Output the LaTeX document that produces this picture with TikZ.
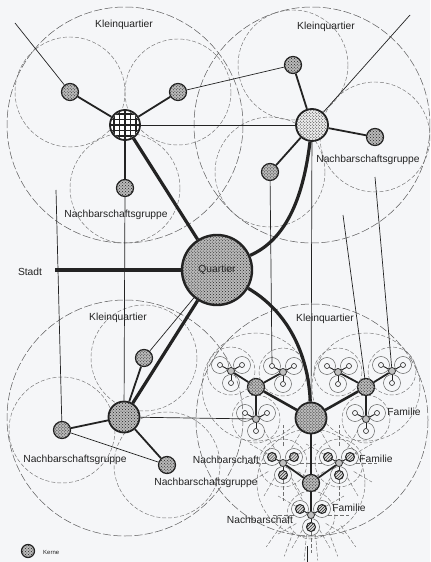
\documentclass[tikz,border=0pt]{standalone}
\usepackage{fontspec}
\setmainfont{Liberation Sans}
\usetikzlibrary{patterns,calc}
\definecolor{bg}{RGB}{245,246,248}
\definecolor{ink}{RGB}{35,35,35}
\newcommand\nbcl[4]{%
  \draw[ng] (#2,#3) circle[radius=24];
  \node[hub] (#1) at (#2,#3) {};
  \foreach \s/\dx/\dy in {a/-11/-6,b/11/-6,c/0/12}{%
    \draw[famc] ($(#2,#3)+(\dx,\dy)$) circle[radius=8.5];
    \node[#4] (#1\s) at ($(#2,#3)+(\dx,\dy)$) {};
    \draw[fl] (#1) -- (#1\s);
  }%
}
\newcommand\rays[2]{%
  \foreach \a in {0,30,...,330}{\draw[ng] ($(#1,#2)+(\a:17)$) -- ($(#1,#2)+(\a:38)$);}%
}
\begin{document}
\begin{tikzpicture}[x=1bp,y=-1bp,
  lab/.style={font=\fontsize{10.3}{12}\selectfont, inner sep=0pt, text=ink},
  kq/.style={draw=ink!75, line width=0.5bp, dash pattern=on 8bp off 2.5bp},
  ng/.style={draw=ink!65, line width=0.45bp, dash pattern=on 4bp off 2bp},
  famc/.style={draw=ink!80, line width=0.45bp},
  thk/.style={draw=ink, line width=3.2bp},
  med/.style={draw=ink, line width=1.8bp},
  thn/.style={draw=ink, line width=0.7bp},
  fl/.style={draw=ink, line width=0.9bp},
  stip/.style={preaction={fill=gray!55}, pattern=crosshatch dots, pattern color=ink},
  sat/.style={circle, draw=ink, line width=1.2bp, minimum size=17bp, inner sep=0pt, stip},
  core/.style={circle, draw=ink, line width=1.8bp, minimum size=31bp, inner sep=0pt, stip},
  corew/.style={circle, draw=ink, line width=1.8bp, minimum size=32bp, inner sep=0pt, preaction={fill=gray!15}, pattern=crosshatch dots, pattern color=ink},
  subc/.style={circle, draw=ink, line width=1.2bp, minimum size=17bp, inner sep=0pt, stip},
  hub/.style={circle, draw=ink, line width=0.7bp, minimum size=7bp, inner sep=0pt, fill=gray!50},
  fdot/.style={circle, draw=ink, line width=0.6bp, minimum size=5bp, inner sep=0pt, fill=bg},
  fdark/.style={circle, draw=ink, line width=1bp, minimum size=9bp, inner sep=0pt, preaction={fill=gray!30}, pattern=north east lines, pattern color=ink},
]
\fill[bg] (0,0) rectangle (430,562);
\useasboundingbox (0,0) rectangle (430,562);
\clip (0,0) rectangle (430,562);

% Kleinquartier circles
\draw[kq] (125,125) circle[radius=118];
\draw[kq] (312,125) circle[radius=118];
\draw[kq] (125,418) circle[radius=118];
\draw[kq] (312,420) circle[radius=116];
% Nachbarschaftsgruppe circles
\foreach \x/\y/\r in {70/92/55,178/92/53,125/188/55,293/65/55,375/137/55,270/172/55,
  144/358/53,62/430/53,167/465/53,256/387/54,366/387/54,311/483/54}
  {\draw[ng] (\x,\y) circle[radius=\r];}

% rays in the lower group
\rays{283}{463}
\rays{339}{463}
\rays{311}{515}
\foreach \a in {55,70,85,95,110,125}{\draw[ng] ($(311,483)+(\a:52)$) -- ($(311,483)+(\a:78)$);}
\coordinate (b1) at (307,546);
\coordinate (b2) at (307,562);
\draw[thn] (b1) -- (b2);

% main nodes
\node[circle, draw=ink, line width=2.4bp, minimum size=70bp, inner sep=0pt, stip, lab] (Q) at (217,270) {Quartier};

\node[circle, draw=ink, line width=1.8bp, minimum size=30bp, inner sep=0pt, fill=white] (TL) at (125,125) {};
\begin{scope}
  \clip (125,125) circle[radius=14];
  \foreach \k in {-3,...,3}{
    \draw[ink, line width=1.7bp] (125+\k*5.5,105) -- (125+\k*5.5,145);
    \draw[ink, line width=1.7bp] (105,125+\k*5.5) -- (145,125+\k*5.5);
  }
\end{scope}
\node[sat] (TLa) at (70,92) {};
\node[sat] (TLb) at (178,92) {};
\node[sat] (TLc) at (125,188) {};

\node[corew] (TR) at (312,125) {};
\node[sat] (TRa) at (293,65) {};
\node[sat] (TRb) at (375,137) {};
\node[sat] (TRc) at (270,172) {};

\node[core] (BL) at (124,417) {};
\node[sat] (BLa) at (144,358) {};
\node[sat] (BLb) at (62,430) {};
\node[sat] (BLc) at (167,465) {};

\node[core] (BR) at (311,418) {};
\node[subc] (L) at (256,387) {};
\node[subc] (R) at (366,387) {};
\node[subc] (B) at (311,483) {};

% Nachbarschaft clusters with families
\nbcl{L1}{231}{371}{fdot}
\nbcl{L2}{283}{372}{fdot}
\nbcl{L3}{256}{419}{fdot}
\nbcl{R1}{338}{372}{fdot}
\nbcl{R2}{392}{371}{fdot}
\nbcl{R3}{366}{419}{fdot}
\nbcl{N1}{283}{463}{fdark}
\nbcl{N2}{339}{463}{fdark}
\nbcl{N3}{311}{515}{fdark}

% free ends
\coordinate (S) at (55,270);
\coordinate (f1) at (15,23);
\coordinate (f2) at (410,15);
\coordinate (f3) at (343,215);
\coordinate (f4) at (375,177);
\coordinate (f5) at (56,190);

% thick main connectors
\draw[ink, line width=4.2bp] (S) -- (Q);
\draw[thk] (TL) -- (Q);
\draw[thk] (BL) -- (Q);
\draw[thk] (TR) .. controls (303,200) and (285,240) .. (Q);
\draw[thk] (Q) .. controls (285,310) and (308,350) .. (BR);
\draw[line width=2.6bp, ink] (BR) -- (L);
\draw[line width=2.6bp, ink] (BR) -- (R);
\draw[line width=2.6bp, ink] (BR) -- (B);

% medium connectors
\foreach \a/\b in {TL/TLa,TL/TLb,TL/TLc,TR/TRa,TR/TRb,TR/TRc,BL/BLa,BL/BLb,BL/BLc,
  L/L1,L/L2,L/L3,R/R1,R/R2,R/R3,B/N1,B/N2,B/N3}
  {\draw[med] (\a) -- (\b);}

% thin links
\draw[thn] (f1) -- (TLa);
\draw[thn] (TLb) -- (TRa);
\draw[thn] (TL) -- (TR);
\draw[thn] (f2) -- (TR);
\draw[thn] (TRc) -- (L2a);
\draw[thn] (f3) -- (R);
\draw[thn] (f4) -- (R2);
\draw[thn] (TR) -- (BR);
\draw[thn] (TLc) -- (BL);
\draw[thn] (f5) -- (BLb);
\draw[thn] (BLb) -- (BLc);
\draw[thn] (BLa) -- (Q);
\draw[thn] (BL) -- (L3);

% labels
\node[lab] at (124,25) {Kleinquartier};
\node[lab] at (326,27) {Kleinquartier};
\node[lab] at (116,215) {Nachbarschaftsgruppe};
\node[lab] at (368,160) {Nachbarschaftsgruppe};
\node[lab] at (30,272) {Stadt};
\node[lab] at (118,318) {Kleinquartier};
\node[lab] at (325,319) {Kleinquartier};
\node[lab] at (75,460) {Nachbarschaftsgruppe};
\node[lab] at (206,483) {Nachbarschaftsgruppe};
\node[lab] at (404,412) {Familie};
\node[lab] at (226,460) {Nachbarschaft};
\node[lab] at (376,459) {Familie};
\node[lab] at (349,508) {Familie};
\node[lab] at (260,520) {Nachbarschaft};

% legend
\node[sat, minimum size=13bp] (K) at (28,551) {};
\node[lab, font=\fontsize{6}{7}\selectfont, anchor=west] at (43,552) {Kerne};
\end{tikzpicture}
\end{document}
